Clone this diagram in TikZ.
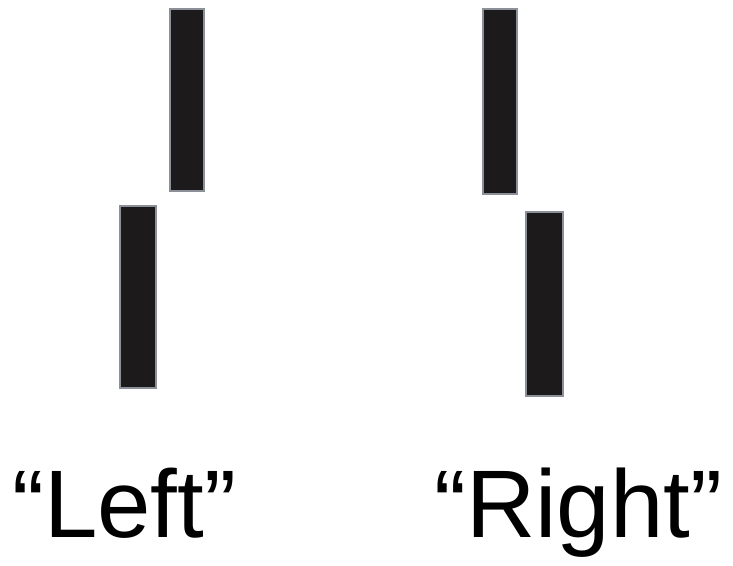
\documentclass[tikz,border=0pt]{standalone}
\usepackage{fontspec}
\setmainfont{Liberation Sans}
\definecolor{barfill}{HTML}{1C1A1B}
\definecolor{baredge}{HTML}{8C9099}
\tikzset{
  bar/.style={fill=barfill, draw=baredge, line width=2.5pt},
  lbl/.style={anchor=base west, inner sep=0pt, font=\fontsize{96}{110}\selectfont}
}
\begin{document}
\begin{tikzpicture}[x=1pt,y=-1pt]
\useasboundingbox (0,0) rectangle (733,565);
\fill[white] (0,0) rectangle (733,565);
% left pair
\draw[bar] (170,9) rectangle (204,191);
\draw[bar] (120,206) rectangle (156,388);
% right pair
\draw[bar] (483,9) rectangle (517,194);
\draw[bar] (526,212) rectangle (563,396);
\node[lbl] (left) at (12,537) {“Left”};
\node[lbl] (right) at (434,537) {“Right”};
\end{tikzpicture}
\end{document}
